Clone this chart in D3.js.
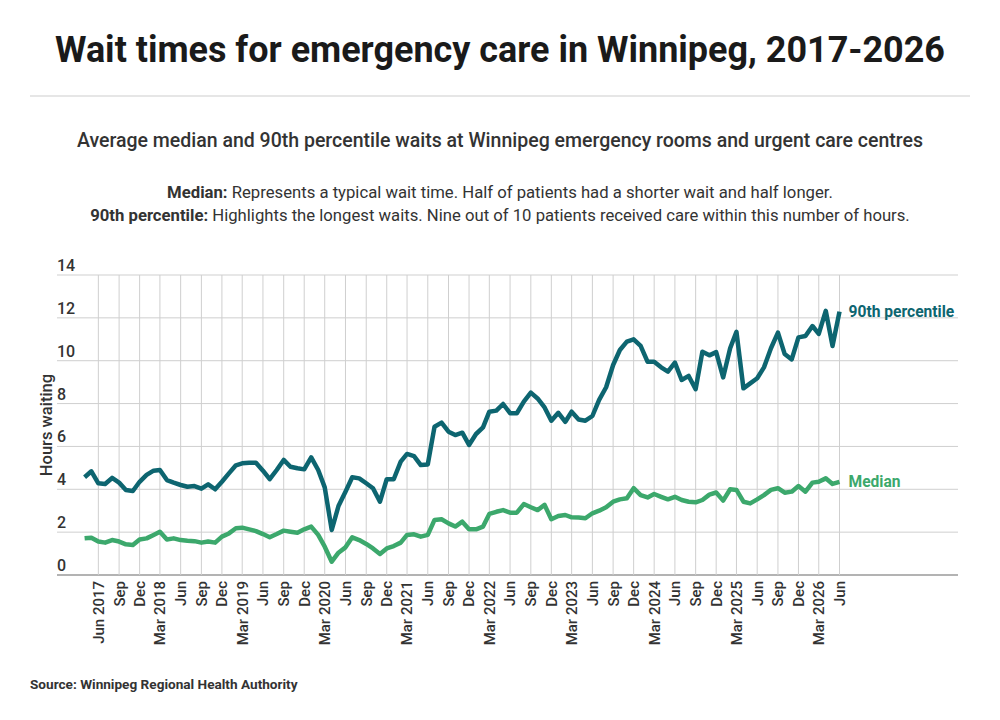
<!DOCTYPE html>
<html>
<head>
<meta charset="utf-8">
<script src="https://cdn.jsdelivr.net/npm/d3@7"></script>
<style>
  html, body { margin: 0; padding: 0; background: #ffffff; }
  svg { display: block; font-family: Roboto, "Noto Sans", sans-serif; }
</style>
</head>
<body>
<svg id="chart" width="1000" height="720"></svg>
<script>
// ---- Data (monthly, April 2017 to June 2026) ----
const startMonth = "2017-04";
const p90Values = [
  // 2017 Apr-Dec
  4.56, 4.84, 4.28, 4.25, 4.53, 4.31, 3.97, 3.92, 4.35,
  // 2018
  4.67, 4.87, 4.90, 4.43, 4.31, 4.20, 4.12, 4.15, 4.03, 4.23, 4.00, 4.35,
  // 2019
  4.74, 5.12, 5.21, 5.24, 5.24, 4.87, 4.47, 4.90, 5.37, 5.05, 4.98, 4.93,
  // 2020
  5.49, 4.90, 4.09, 2.10, 3.22, 3.89, 4.56, 4.51, 4.28, 4.05, 3.42, 4.47,
  // 2021
  4.47, 5.29, 5.65, 5.55, 5.13, 5.16, 6.92, 7.11, 6.69, 6.53, 6.64, 6.07,
  // 2022
  6.58, 6.89, 7.62, 7.67, 7.98, 7.55, 7.55, 8.09, 8.51, 8.24, 7.82, 7.20,
  // 2023
  7.57, 7.15, 7.62, 7.26, 7.20, 7.42, 8.17, 8.76, 9.80, 10.50, 10.89, 11.00,
  // 2024
  10.69, 9.95, 9.95, 9.69, 9.49, 9.91, 9.10, 9.29, 8.67, 10.42, 10.25, 10.40,
  // 2025
  9.22, 10.58, 11.35, 8.71, 8.94, 9.18, 9.69, 10.58, 11.31, 10.31, 10.06, 11.09,
  // 2026 Jan-Jun
  11.15, 11.62, 11.25, 12.33, 10.69, 12.29
];
const medianValues = [
  // 2017 Apr-Dec
  1.71, 1.74, 1.56, 1.51, 1.63, 1.56, 1.43, 1.40, 1.66,
  // 2018
  1.71, 1.87, 2.02, 1.66, 1.71, 1.63, 1.60, 1.58, 1.51, 1.56, 1.51, 1.79,
  // 2019
  1.94, 2.18, 2.21, 2.13, 2.05, 1.91, 1.76, 1.91, 2.07, 2.02, 1.97, 2.13,
  // 2020
  2.26, 1.87, 1.32, 0.62, 1.04, 1.29, 1.76, 1.63, 1.45, 1.24, 0.98, 1.24,
  // 2021
  1.35, 1.51, 1.87, 1.90, 1.79, 1.87, 2.57, 2.60, 2.41, 2.26, 2.49, 2.13,
  // 2022
  2.13, 2.26, 2.85, 2.95, 3.03, 2.91, 2.91, 3.31, 3.16, 3.03, 3.27, 2.60,
  // 2023
  2.75, 2.80, 2.69, 2.68, 2.65, 2.88, 3.00, 3.16, 3.42, 3.53, 3.58, 4.05,
  // 2024
  3.73, 3.62, 3.78, 3.65, 3.53, 3.65, 3.50, 3.42, 3.39, 3.50, 3.75, 3.85,
  // 2025
  3.47, 4.00, 3.97, 3.42, 3.34, 3.53, 3.73, 3.97, 4.05, 3.84, 3.89, 4.15,
  // 2026 Jan-Jun
  3.89, 4.31, 4.35, 4.51, 4.25, 4.35
];
const seriesNames = ["90th percentile", "Median"];
const yTicks = [0, 2, 4, 6, 8, 10, 12, 14];
const xTickMonths = ["2017-06","2017-09","2017-12","2018-03","2018-06","2018-09","2018-12",
  "2019-03","2019-06","2019-09","2019-12","2020-03","2020-06","2020-09","2020-12",
  "2021-03","2021-06","2021-09","2021-12","2022-03","2022-06","2022-09","2022-12",
  "2023-03","2023-06","2023-09","2023-12","2024-03","2024-06","2024-09","2024-12",
  "2025-03","2025-06","2025-09","2025-12","2026-03","2026-06"];
const xTickLabels = ["Jun 2017","Sep","Dec","Mar 2018","Jun","Sep","Dec",
  "Mar 2019","Jun","Sep","Dec","Mar 2020","Jun","Sep","Dec",
  "Mar 2021","Jun","Sep","Dec","Mar 2022","Jun","Sep","Dec",
  "Mar 2023","Jun","Sep","Dec","Mar 2024","Jun","Sep","Dec",
  "Mar 2025","Jun","Sep","Dec","Mar 2026","Jun"];

const titleText = "Wait times for emergency care in Winnipeg, 2017-2026";
const subtitleText = "Average median and 90th percentile waits at Winnipeg emergency rooms and urgent care centres";
const noteLines = [
  ["Median:", " Represents a typical wait time. Half of patients had a shorter wait and half longer."],
  ["90th percentile:", " Highlights the longest waits. Nine out of 10 patients received care within this number of hours."]
];
const yAxisTitle = "Hours waiting";
const sourceText = "Source: Winnipeg Regional Health Authority";

// ---- Setup ----
const parseMonth = d3.timeParse("%Y-%m");
const start = parseMonth(startMonth);
const dates = p90Values.map((_, i) => d3.timeMonth.offset(start, i));
const p90Data = dates.map((d, i) => ({ date: d, value: p90Values[i] }));
const medData = dates.map((d, i) => ({ date: d, value: medianValues[i] }));

const colors = { p90: "#0d6570", med: "#3ca86c" };
const textColor = "#333333";

const svg = d3.select("#chart");

const x = d3.scaleTime()
  .domain([start, dates[dates.length - 1]])
  .range([84.6, 839.5]);
const y = d3.scaleLinear().domain([0, 14]).range([575, 275]);

const gridLeft = 57, gridRight = 958;

// Title
const title = svg.append("text")
  .attr("x", 500).attr("y", 62)
  .attr("text-anchor", "middle")
  .attr("font-size", 36).attr("font-weight", 700)
  .attr("fill", "#1a1a1a")
  .text(titleText);
const tw = title.node().getComputedTextLength();
if (tw > 890) title.attr("textLength", 890).attr("lengthAdjust", "spacingAndGlyphs");

svg.append("line")
  .attr("x1", 30).attr("x2", 970).attr("y1", 96).attr("y2", 96)
  .attr("stroke", "#e6e6e6").attr("stroke-width", 2);

svg.append("text")
  .attr("x", 500).attr("y", 147)
  .attr("text-anchor", "middle")
  .attr("font-size", 19.5).attr("font-weight", 500)
  .attr("fill", textColor)
  .text(subtitleText);

noteLines.forEach((ln, i) => {
  const t = svg.append("text")
    .attr("x", 500).attr("y", 197.5 + i * 23)
    .attr("text-anchor", "middle")
    .attr("font-size", 16.7)
    .attr("fill", textColor);
  t.append("tspan").attr("font-weight", 700).text(ln[0]);
  t.append("tspan").attr("font-weight", 400).text(ln[1]);
});

// Grid
const g = svg.append("g");
g.selectAll("line.hgrid").data(yTicks).join("line")
  .attr("class", "hgrid")
  .attr("x1", gridLeft).attr("x2", gridRight)
  .attr("y1", d => y(d)).attr("y2", d => y(d))
  .attr("stroke", d => d === 0 ? "#9a9a9a" : "#cfcfcf")
  .attr("stroke-width", d => d === 0 ? 1.5 : 1);

const tickDates = xTickMonths.map(parseMonth);
g.selectAll("line.vgrid").data(tickDates).join("line")
  .attr("class", "vgrid")
  .attr("x1", d => x(d)).attr("x2", d => x(d))
  .attr("y1", y(14)).attr("y2", y(0))
  .attr("stroke", "#cfcfcf").attr("stroke-width", 1);

// Y tick labels (above gridlines)
g.selectAll("text.ytick").data(yTicks).join("text")
  .attr("class", "ytick")
  .attr("x", gridLeft).attr("y", d => y(d) - 4)
  .attr("font-size", 16).attr("font-weight", 500)
  .attr("fill", textColor)
  .text(d => d);

// Y axis title
svg.append("text")
  .attr("transform", "translate(46,425) rotate(-90)")
  .attr("text-anchor", "middle")
  .attr("dy", "0.35em")
  .attr("font-size", 16.5).attr("font-weight", 500)
  .attr("fill", textColor)
  .text(yAxisTitle);

// X tick labels
g.selectAll("text.xtick").data(tickDates).join("text")
  .attr("class", "xtick")
  .attr("transform", d => `translate(${x(d)},581) rotate(-90)`)
  .attr("text-anchor", "end")
  .attr("dy", "0.36em")
  .attr("font-size", 15).attr("font-weight", 500)
  .attr("fill", textColor)
  .text((d, i) => xTickLabels[i]);

// Lines
const line = d3.line().x(d => x(d.date)).y(d => y(d.value)).curve(d3.curveLinear);
svg.append("path").datum(medData)
  .attr("fill", "none").attr("stroke", colors.med)
  .attr("stroke-width", 4.5).attr("stroke-linejoin", "round")
  .attr("d", line);
svg.append("path").datum(p90Data)
  .attr("fill", "none").attr("stroke", colors.p90)
  .attr("stroke-width", 4.5).attr("stroke-linejoin", "round")
  .attr("d", line);

// Line labels
const lastP = p90Data[p90Data.length - 1];
const lastM = medData[medData.length - 1];
svg.append("text")
  .attr("x", x(lastP.date) + 9).attr("y", y(lastP.value))
  .attr("dy", "0.35em")
  .attr("font-size", 15.6).attr("font-weight", 700)
  .attr("fill", colors.p90)
  .text(seriesNames[0]);
svg.append("text")
  .attr("x", x(lastM.date) + 9).attr("y", y(lastM.value))
  .attr("dy", "0.35em")
  .attr("font-size", 15.6).attr("font-weight", 700)
  .attr("fill", colors.med)
  .text(seriesNames[1]);

// Source
svg.append("text")
  .attr("x", 30).attr("y", 689)
  .attr("font-size", 13.6).attr("font-weight", 700)
  .attr("fill", textColor)
  .text(sourceText);
</script>
</body>
</html>
